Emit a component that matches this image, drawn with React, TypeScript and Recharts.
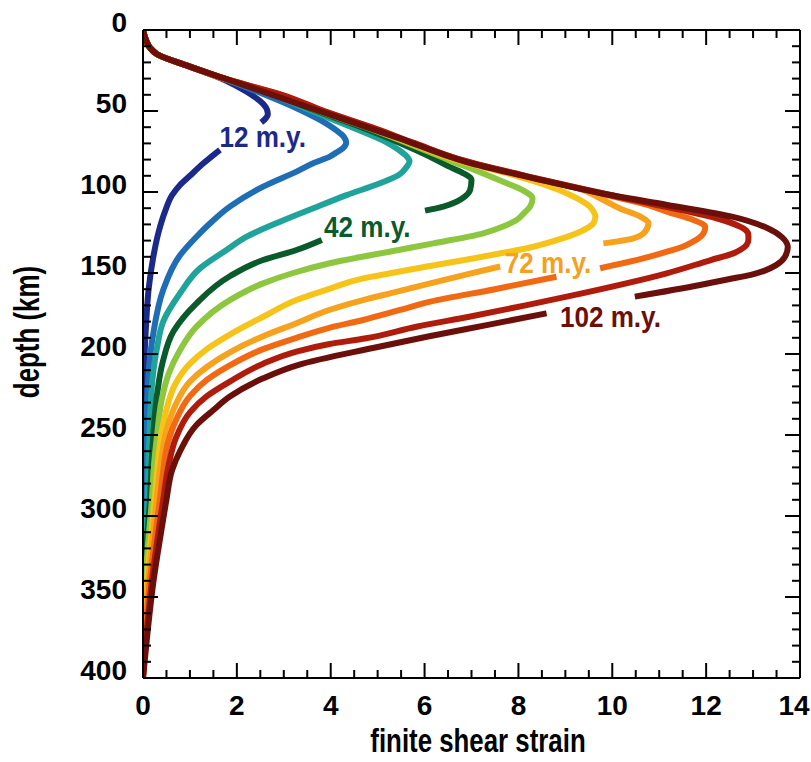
import { LineChart, Line, XAxis, YAxis, ReferenceDot } from 'recharts'

const FONT = "'Liberation Sans', Arial, sans-serif"

// [depth (km), finite shear strain]; null leaves a gap where a label sits
type Pt = [number, number | null]

const my12: Pt[] = [
  [0, 0], [6, 0.06], [11, 0.15], [15, 0.3], [22, 0.94], [31, 1.75], [38, 2.2], [44, 2.5],
  [49, 2.64], [52, 2.66], [55, 2.6], [57, 2.52],
  [65, null],
  [74, 1.64], [82, 1.3], [90, 1.0], [96, 0.78], [102, 0.62], [112, 0.47], [125, 0.33],
  [140, 0.22], [160, 0.12], [185, 0.06], [210, 0.02], [240, 0], [400, 0],
]
const my22: Pt[] = [
  [0, 0], [6, 0.06], [11, 0.15], [15, 0.3], [22, 0.94], [31, 1.8], [40, 2.6], [48, 3.25],
  [56, 3.8], [62, 4.12], [66, 4.28], [69.5, 4.33], [73, 4.26], [76, 4.1], [78.2, 3.98],
  [82, 3.65], [87.4, 3.27], [96.7, 2.56], [109, 1.85], [119.3, 1.43], [127.6, 1.14],
  [139, 0.79], [160.5, 0.43], [187.2, 0.22], [207.8, 0.13], [238, 0.08], [265, 0.05],
  [290, 0.04], [320, 0.01], [340, 0], [400, 0],
]
const my32: Pt[] = [
  [0, 0], [6, 0.06], [11, 0.15], [15, 0.3], [22, 0.94], [31, 1.82], [40, 2.75], [50, 3.6],
  [60, 4.45], [68, 5.1], [74, 5.45], [78, 5.62], [81, 5.68], [84.4, 5.62], [89.5, 5.45],
  [94.6, 5.05], [101.9, 4.34], [110, 3.63], [118.3, 2.92], [127.6, 2.21], [135.8, 1.78],
  [147, 1.22], [162.5, 0.79], [180, 0.43], [196, 0.3], [216, 0.2], [240, 0.15],
  [265, 0.12], [290, 0.1], [320, 0.04], [350, 0], [400, 0],
]
const my42: Pt[] = [
  [0, 0], [6, 0.06], [11, 0.15], [15, 0.3], [22, 0.94], [31, 1.83], [40, 2.8], [50, 3.7],
  [60, 4.65], [70, 5.5], [78, 6.1], [84, 6.5], [88, 6.8], [92.6, 7.0], [98.8, 6.97],
  [103, 6.85], [106, 6.68], [109, 6.4], [111.5, 6.01],
  [120, null],
  [129.6, 3.81], [135.8, 3.27], [142, 2.56], [152, 1.85], [168.7, 1.14], [186, 0.65],
  [205, 0.42], [225, 0.3], [250, 0.22], [270, 0.18], [290, 0.15], [320, 0.07], [350, 0.02],
  [380, 0], [400, 0],
]
const my52: Pt[] = [
  [0, 0], [6, 0.06], [11, 0.15], [15, 0.3], [22, 0.94], [31, 1.84], [40, 2.85], [50, 3.75],
  [60, 4.75], [70, 5.65], [80, 6.5], [88, 7.2], [94, 7.7], [99, 8.1], [104, 8.3], [109, 8.25],
  [113, 8.12], [117.3, 7.96], [121, 7.7], [125.5, 7.25], [131.7, 6.19], [135.8, 5.45],
  [144, 3.98], [150, 3.2], [156.4, 2.56], [166.7, 1.85], [183.1, 1.14], [197.5, 0.79],
  [212, 0.55], [228, 0.4], [250, 0.3], [270, 0.23], [290, 0.19], [320, 0.1], [350, 0.04],
  [380, 0], [400, 0],
]
const my62: Pt[] = [
  [0, 0], [6, 0.06], [11, 0.15], [15, 0.3], [22, 0.94], [31, 1.84], [40, 2.9], [50, 3.8],
  [60, 4.8], [70, 5.72], [80, 6.65], [90, 7.95], [98, 8.8], [104, 9.25], [109, 9.52],
  [112, 9.6], [115, 9.64], [119.3, 9.6], [122, 9.48], [125.5, 9.24], [129, 8.9], [133.8, 8.32],
  [138, 7.6], [142, 6.85], [146, 6.05], [150, 5.3], [153.3, 4.69], [160, 3.95], [166.7, 3.27],
  [177, 2.56], [188, 1.85], [197, 1.36], [206, 1.0], [219, 0.68], [232, 0.52], [248, 0.4],
  [270, 0.31], [290, 0.25], [320, 0.15], [350, 0.06], [380, 0.01], [400, 0],
]
const my72: Pt[] = [
  [0, 0], [6, 0.06], [11, 0.15], [15, 0.3], [22, 0.94], [31, 1.85], [40, 2.92], [50, 3.82],
  [60, 4.82], [70, 5.75], [80, 6.7], [90, 8.05], [98, 9.3], [104, 9.75], [110, 10.15],
  [115.2, 10.6], [119.3, 10.77], [124.5, 10.7], [128.6, 10.45], [131.7, 9.81],
  [139, null],
  [146, 7.61], [151, 6.88], [156.4, 6.12], [162, 5.35], [166.7, 4.69], [173, 3.95],
  [181, 3.27], [189, 2.56], [199, 1.85], [208, 1.36], [217, 1.0], [231, 0.7], [245, 0.52],
  [263, 0.4], [290, 0.29], [320, 0.18], [350, 0.08], [380, 0.02], [400, 0],
]
const my82: Pt[] = [
  [0, 0], [6, 0.06], [11, 0.15], [15, 0.3], [22, 0.94], [31, 1.85], [40, 2.94], [50, 3.84],
  [60, 4.84], [70, 5.78], [80, 6.75], [90, 8.12], [98, 9.32], [104, 10.2], [108, 10.75],
  [112.1, 11.16], [117.3, 11.73], [121.4, 11.98], [124.5, 11.96], [127.6, 11.88], [131, 11.7],
  [133.8, 11.5], [137, 11.15], [139.9, 10.8], [147.1, 9.74],
  [150, null],
  [152.3, 8.81], [160, 7.5], [167.7, 6.12], [172.8, 5.48], [179, 4.69], [184, 3.95],
  [190, 3.27], [197, 2.56], [207, 1.85], [216, 1.36], [226, 1.0], [241, 0.7], [256, 0.52],
  [275, 0.42], [290, 0.36], [315, 0.25], [345, 0.13], [375, 0.05], [400, 0],
]
const my92: Pt[] = [
  [0, 0], [6, 0.06], [11, 0.15], [15, 0.3], [22, 0.94], [31, 1.85], [40, 2.96], [50, 3.86],
  [60, 4.87], [70, 5.8], [80, 6.77], [90, 8.15], [98, 9.35], [104, 10.3], [108, 10.95],
  [112, 11.6], [116.2, 12.22], [121.4, 12.72], [124, 12.86], [126.5, 12.9], [129.5, 12.9],
  [132.7, 12.86], [135.5, 12.74], [137.9, 12.58], [142, 12.1], [150.2, 11.16], [164.6, 9.03],
  [170, 8.15], [177, 6.95], [183, 5.85], [190.3, 4.75], [194, 3.95], [198.5, 3.27],
  [206, 2.56], [217, 1.85], [226, 1.36], [236, 1.0], [252, 0.7], [268, 0.55], [290, 0.43],
  [310, 0.33], [340, 0.19], [370, 0.08], [400, 0],
]
const my102: Pt[] = [
  [0, 0], [6, 0.06], [11, 0.15], [15, 0.3], [22, 0.94], [31, 1.85], [46, 3.35], [67, 5.48],
  [81.5, 6.9], [91.4, 8.31], [100.6, 9.74], [108, 11.17], [115.4, 12.57], [122.2, 13.3],
  [128, 13.62], [134, 13.74], [140, 13.68], [145, 13.5], [148.5, 13.25], [151.2, 12.95],
  [154, 12.45], [157.4, 11.87], [164.6, 10.48],
  [170, null],
  [174.9, 8.6], [182, 7.35], [189, 6.1], [196, 4.95], [206.8, 3.3], [215, 2.56],
  [226.3, 1.85], [234.6, 1.5], [243.8, 1.14], [259.3, 0.8], [271.6, 0.62], [290, 0.5],
  [311, 0.38], [341, 0.22], [371, 0.1], [400, 0],
]

const ages = ['12', '22', '32', '42', '52', '62', '72', '82', '92', '102']
const curves = [my12, my22, my32, my42, my52, my62, my72, my82, my92, my102]
const colors = [
  '#1b2a8a', '#1f6db5', '#1fa39a', '#0b5a2b', '#8dc63f',
  '#f6c419', '#f7a21d', '#f16a13', '#b01c0c', '#6b0f0a',
]

const labelText = ['12 m.y.', '42 m.y.', '72 m.y.', '102 m.y.']
const labelStrain = [2.55, 4.78, 8.63, 9.96]
const labelDepth = [72.2, 127.8, 150, 183.1]
const labelColor = ['#1b2a8a', '#0b5a2b', '#f5a01e', '#6b0f0a']

const strainTicks = [
  0, 0.5, 1, 1.5, 2, 2.5, 3, 3.5, 4, 4.5, 5, 5.5, 6, 6.5, 7, 7.5,
  8, 8.5, 9, 9.5, 10, 10.5, 11, 11.5, 12, 12.5, 13, 13.5, 14,
]
const depthTicks = [
  0, 10, 20, 30, 40, 50, 60, 70, 80, 90, 100, 110, 120, 130, 140, 150, 160, 170, 180, 190,
  200, 210, 220, 230, 240, 250, 260, 270, 280, 290, 300, 310, 320, 330, 340, 350, 360, 370,
  380, 390, 400,
]

// corner points so the top and right frame axes have something to scale
const frame = [
  { depth: 0, strain: 0 },
  { depth: 400, strain: 14 },
]

// split a curve into drawable pieces at the label gaps
function pieces(pts: Pt[]) {
  const out: { depth: number; strain: number }[][] = [[]]
  for (const [depth, strain] of pts) {
    if (strain === null) out.push([])
    else out[out.length - 1].push({ depth, strain })
  }
  return out
}

const tickText = { fontFamily: FONT, fontWeight: 'bold' as const, fontSize: 28, fill: '#000' }

function BottomTick({ x, y, payload }: any) {
  const v = payload.value
  const major = v % 2 === 0
  return (
    <g>
      <line x1={x} x2={x} y1={y} y2={y - (major ? 15 : 8)} stroke="#000" strokeWidth={2} />
      {major && (
        <text x={v === 14 ? x - 6 : x} y={y + 37} textAnchor="middle" {...tickText}>
          {v}
        </text>
      )}
    </g>
  )
}

function TopTick({ x, y, payload }: any) {
  const major = payload.value % 2 === 0
  return <line x1={x} x2={x} y1={y} y2={y + (major ? 15 : 8)} stroke="#000" strokeWidth={2} />
}

function LeftTick({ x, y, payload }: any) {
  const v = payload.value
  const major = v % 50 === 0
  return (
    <g>
      <line x1={x} x2={x + (major ? 15 : 8)} y1={y} y2={y} stroke="#000" strokeWidth={2} />
      {major && (
        <text x={x - 16} y={y + 2} textAnchor="end" {...tickText}>
          {v}
        </text>
      )}
    </g>
  )
}

function RightTick({ x, y, payload }: any) {
  const major = payload.value % 50 === 0
  return <line x1={x} x2={x - (major ? 15 : 8)} y1={y} y2={y} stroke="#000" strokeWidth={2} />
}

export default function App() {
  return (
    <div style={{ position: 'absolute', left: 0, top: 0, width: 811, height: 762, background: '#fff' }}>
      <LineChart
        layout="vertical"
        width={811}
        height={762}
        margin={{ top: 29, right: 10, left: 0, bottom: 0 }}
      >
        <XAxis
          type="number"
          domain={[0, 14]}
          allowDataOverflow
          ticks={strainTicks}
          interval={0}
          height={84}
          tickSize={0}
          tickMargin={0}
          tick={<BottomTick />}
          axisLine={{ stroke: '#000', strokeWidth: 2 }}
          label={() => (
            <text
              transform="translate(478,752) scale(0.76,1)"
              textAnchor="middle"
              fontFamily={FONT}
              fontWeight="bold"
              fontSize={34}
              fill="#000"
            >
              finite shear strain
            </text>
          )}
        />
        <XAxis
          xAxisId="top"
          orientation="top"
          type="number"
          domain={[0, 14]}
          allowDataOverflow
          ticks={strainTicks}
          interval={0}
          height={1}
          tickSize={0}
          tickMargin={0}
          tick={<TopTick />}
          axisLine={{ stroke: '#000', strokeWidth: 2 }}
        />
        <YAxis
          type="number"
          dataKey="depth"
          domain={[0, 400]}
          allowDataOverflow
          ticks={depthTicks}
          interval={0}
          width={143}
          tickSize={0}
          tickMargin={0}
          tick={<LeftTick />}
          axisLine={{ stroke: '#000', strokeWidth: 2 }}
          label={() => (
            <text
              transform="translate(39,332) rotate(-90) scale(0.74,1)"
              textAnchor="middle"
              fontFamily={FONT}
              fontWeight="bold"
              fontSize={35}
              fill="#000"
            >
              depth (km)
            </text>
          )}
        />
        <YAxis
          yAxisId="right"
          orientation="right"
          type="number"
          dataKey="depth"
          domain={[0, 400]}
          allowDataOverflow
          ticks={depthTicks}
          interval={0}
          width={1}
          tickSize={0}
          tickMargin={0}
          tick={<RightTick />}
          axisLine={{ stroke: '#000', strokeWidth: 2 }}
        />
        <Line
          xAxisId="top"
          yAxisId="right"
          data={frame}
          dataKey="strain"
          stroke="none"
          dot={false}
          activeDot={false}
          legendType="none"
          isAnimationActive={false}
        />
        {curves.map((c, i) =>
          pieces(c).map((seg, j) => (
            <Line
              key={`${ages[i]}-${j}`}
              name={`${ages[i]} m.y.`}
              data={seg}
              dataKey="strain"
              type="monotone"
              stroke={colors[i]}
              strokeWidth={6}
              dot={false}
              activeDot={false}
              isAnimationActive={false}
            />
          ))
        )}
        {labelText.map((t, i) => (
          <ReferenceDot
            key={t}
            x={labelStrain[i]}
            y={labelDepth[i]}
            r={0}
            shape={(p: any) => (
              <text
                transform={`translate(${p.cx},${p.cy}) scale(0.87,1)`}
                textAnchor="middle"
                fontFamily={FONT}
                fontWeight="bold"
                fontSize={30}
                fill={labelColor[i]}
              >
                {t}
              </text>
            )}
          />
        ))}
      </LineChart>
    </div>
  )
}
